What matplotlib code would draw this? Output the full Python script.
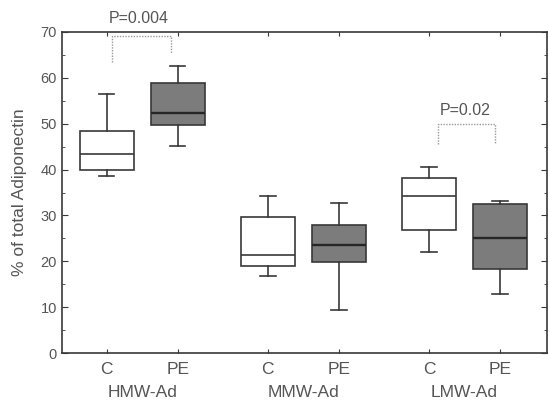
import matplotlib.pyplot as plt

plt.rcParams['font.family'] = ['Liberation Sans', 'DejaVu Sans']

groups = ['HMW-Ad', 'MMW-Ad', 'LMW-Ad']
conds = ['C', 'PE', 'C', 'PE', 'C', 'PE']
positions = [1, 2, 3.27, 4.27, 5.54, 6.54]

# box stats: whisker low, q1, median, q3, whisker high
whislo = [38.6, 45.1, 16.8, 9.5, 22.1, 12.9]
q1 = [39.9, 49.7, 19.0, 19.9, 26.8, 18.4]
med = [43.3, 52.4, 21.5, 23.5, 34.2, 25.2]
q3 = [48.4, 58.9, 29.7, 27.9, 38.1, 32.4]
whishi = [56.4, 62.5, 34.2, 32.7, 40.5, 33.1]

pvals = ['P=0.004', 'P=0.02']

ink = '#383838'
txt = '#555555'

fig = plt.figure(figsize=(5.48, 4.03), dpi=100)
ax = fig.add_axes([0.113, 0.1233, 0.885, 0.798])

stats = []
for i in range(6):
    stats.append(dict(whislo=whislo[i], q1=q1[i], med=med[i], q3=q3[i],
                      whishi=whishi[i], fliers=[]))

bp = ax.bxp(stats, positions=positions, widths=0.76, capwidths=0.22,
            patch_artist=True, showfliers=False,
            boxprops=dict(edgecolor=ink, linewidth=1.2),
            whiskerprops=dict(color=ink, linewidth=1.2),
            capprops=dict(color=ink, linewidth=1.2),
            medianprops=dict(color=ink, linewidth=1.2))
for i, box in enumerate(bp['boxes']):
    if conds[i] == 'PE':
        box.set_facecolor('#7c7c7c')
        bp['medians'][i].set_color('#262626')
        bp['medians'][i].set_linewidth(1.7)
    else:
        box.set_facecolor('white')

ax.set_xlim(0.37, 7.2)
ax.set_ylim(0, 70)
ax.set_yticks(range(0, 71, 10))
ax.set_yticks(range(5, 70, 10), minor=True)
ax.set_xticks(positions)
ax.set_xticklabels(conds)
ax.tick_params(axis='both', which='both', direction='in', top=True, right=True,
               colors=ink, labelcolor=txt)
ax.tick_params(axis='y', which='major', length=4, labelsize=10.5)
ax.tick_params(axis='y', which='minor', length=2)
ax.tick_params(axis='x', length=3, labelsize=12.5, pad=6)
for s in ax.spines.values():
    s.set_color(ink)
    s.set_linewidth(1.2)

ax.set_ylabel('% of total Adiponectin', fontsize=12.5, color=txt, labelpad=10)

# group names under the C / PE labels
for g, x in zip(groups, [1.5, 3.77, 6.04]):
    ax.text(x, -0.123, g, transform=ax.get_xaxis_transform(), ha='center',
            va='center', fontsize=12.5, color=txt)

# significance brackets
br = dict(color='#9a9a9a', linewidth=1.0, linestyle=(0, (1, 1)), clip_on=False)
ax.plot([1.07, 1.07, 1.9, 1.9], [63.4, 69.0, 69.0, 65.3], **br)
ax.text(1.45, 72.8, pvals[0], ha='center', va='center', fontsize=11.5,
        color=txt, clip_on=False)
ax.plot([5.66, 5.66, 6.47, 6.47], [45.6, 49.9, 49.9, 45.6], **br)
ax.text(6.05, 52.8, pvals[1], ha='center', va='center', fontsize=11.5,
        color=txt)

fig.savefig('out.png', dpi=100)
